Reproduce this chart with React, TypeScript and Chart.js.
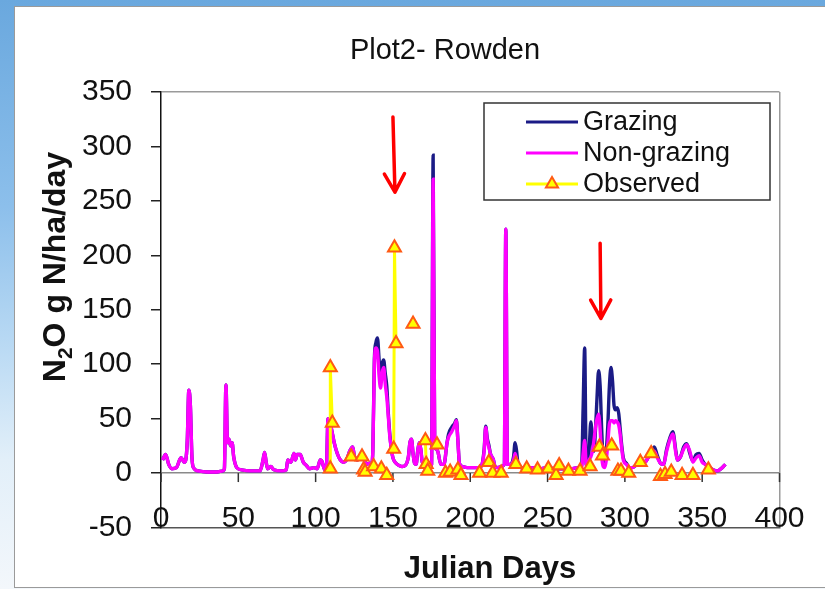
import React, { useEffect, useRef } from "react";
import { Chart, registerables } from "chart.js";

Chart.register(...registerables);

// ---------- data ----------
const titleText = "Plot2- Rowden";
const xTitleText = "Julian Days";
const yTitleParts = ["N", "2", "O g N/ha/day"]; // N₂O g N/ha/day
const legendLabels = ["Grazing", "Non-grazing", "Observed"];

const xMin = 0;
const xMax = 400;
const xStep = 50;
const yMin = -50;
const yMax = 350;
const yStep = 50;

const simDays = [
  1, 3, 5, 7, 10, 12, 13, 15, 16, 17, 18, 19, 20, 21, 24, 30, 36, 40, 41, 42, 43, 44, 45, 46, 47, 49,
  52, 58, 64, 66, 67, 68, 69, 71, 73, 78, 81, 82, 84, 86, 87, 88, 90, 92, 94, 96, 99, 101, 103, 104,
  106, 107, 108, 110, 112, 114, 116, 118, 120, 122, 124, 125, 127, 129, 131, 133, 135, 136, 137, 138,
  139, 140, 141, 142, 143, 144, 145, 146, 147, 148, 149, 150, 152, 154, 156, 158, 160, 161, 162, 163,
  164, 165, 166, 167, 168, 169, 171, 173, 175, 176, 177, 178, 179, 181, 183, 185, 186, 188, 190, 191,
  192, 193, 195, 198, 202, 205, 207, 209, 210, 211, 212, 213, 215, 216, 218, 220, 222, 223, 224, 226,
  228, 229, 230, 231, 233, 236, 240, 245, 250, 255, 260, 265, 270, 272, 273, 274, 275, 276, 277, 278,
  279, 280, 281, 282, 283, 284, 285, 286, 287, 288, 289, 290, 291, 292, 293, 294, 295, 296, 297, 298,
  299, 301, 303, 305, 307, 309, 311, 313, 315, 317, 319, 321, 323, 325, 327, 329, 331, 333, 334, 336,
  338, 340, 342, 344, 346, 348, 350, 352, 354, 357, 360, 363, 365,
];

const nonGrazing = [
  12, 17, 8, 4, 5, 12, 14, 10, 12, 30, 76, 62, 15, 5, 2, 1, 1, 2, 4, 81, 28, 31, 25, 28, 15, 5,
  3, 2, 2, 12, 19, 10, 4, 6, 3, 2, 3, 12, 10, 18, 12, 17, 17, 10, 7, 4, 5, 4, 12, 11,
  3, 5, 50, 42, 28, 18, 12, 10, 12, 20, 24, 16, 12, 15, 13, 8, 9, 7, 20, 100,
  115, 112, 90, 78, 92, 97, 82, 70, 52, 33, 22, 14, 9, 7, 6, 7, 15, 28, 31, 18,
  9, 8, 20, 28, 22, 10, 8, 5, 8, 270, 26, 22, 20, 8, 8, 28, 33, 38, 44, 48,
  30, 9, 6, 5, 5, 5, 6, 20, 42, 30, 24, 18, 12, 6, 5, 6, 8, 224, 8, 8,
  12, 18, 12, 6, 5, 4, 5, 4, 5, 4, 4, 4, 5, 5, 18, 30, 8, 6, 12, 15,
  20, 30, 42, 50, 54, 40, 15, 6, 5, 12, 28, 45, 48, 48, 46, 48, 47, 44, 35, 22,
  12, 8, 5, 5, 7, 9, 12, 10, 14, 18, 20, 14, 9, 8, 20, 30, 36, 18, 12, 15,
  22, 26, 20, 10, 14, 16, 10, 8, 6, 3, 2, 5, 8,
];

const grazing = [
  12, 17, 8, 4, 5, 12, 14, 10, 12, 30, 76, 62, 15, 5, 2, 1, 1, 2, 4, 81, 28, 31, 25, 28, 15, 5,
  3, 2, 2, 12, 19, 10, 4, 6, 3, 2, 3, 12, 10, 18, 12, 17, 17, 10, 7, 4, 5, 4, 12, 11,
  3, 5, 50, 42, 28, 18, 12, 10, 12, 20, 24, 16, 12, 15, 13, 8, 9, 7, 20, 105,
  120, 124, 105, 84, 100, 104, 92, 80, 55, 35, 22, 14, 9, 7, 6, 7, 15, 28, 31, 18,
  9, 8, 20, 28, 22, 10, 8, 5, 8, 292, 26, 22, 20, 8, 8, 28, 36, 42, 46, 49,
  30, 9, 6, 5, 5, 5, 6, 22, 43, 32, 26, 18, 12, 6, 5, 6, 8, 224, 8, 8,
  15, 28, 20, 7, 5, 4, 5, 4, 5, 4, 4, 4, 5, 6, 60, 115, 8, 6, 25, 47,
  30, 20, 40, 70, 94, 80, 40, 12, 8, 20, 45, 80, 97, 85, 62, 58, 60, 55, 40, 25,
  14, 9, 5, 5, 7, 9, 12, 10, 14, 18, 24, 16, 9, 8, 22, 32, 38, 20, 12, 15,
  24, 27, 18, 11, 17, 18, 12, 8, 6, 3, 2, 5, 8,
];

const obsDays = [
  109.5, 109.5, 110.8, 123, 130, 131, 132, 137.5, 142.5, 146, 150.5, 151, 152, 163, 171, 171.5, 172.5,
  178.5, 184, 187, 192, 194, 206, 212, 214.5, 220, 229.5, 236.5, 243.5, 250.5, 255.5, 257.5, 263.5,
  271, 277.5, 283.5, 285.5, 291.5, 295.5, 297.5, 302.5, 310, 317, 323, 326, 330, 337, 344, 354,
];
const obsValues = [
  4, 97, 46, 15, 15, 3, 1, 6, 4, -2, 22, 207, 119, 137, 30, 8, 2,
  26, 0, 1, 3, -2, 0, 10, 0, 0, 8, 4, 3, 4, -2, 7, 2,
  2, 6, 24, 16, 25, 2, 2, 0, 10, 18, -3, -1, 1, -2, -2, 3,
];
// 1 = joined by a line to the previous observation (same sampling day)
const obsLinked = [
  0, 1, 1, 0, 0, 0, 0, 0, 0, 0, 0, 1, 1, 0, 0, 1, 1,
  0, 0, 0, 0, 0, 0, 0, 0, 0, 0, 0, 0, 0, 0, 0, 0,
  0, 0, 0, 0, 0, 0, 0, 0, 0, 0, 0, 0, 0, 0, 0, 0,
];

// red arrows (annotations)
const arrowTopDays = [150, 284];
const arrowTipDays = [151.3, 284.5];
const arrowTopValues = [327, 211];
const arrowTipValues = [258, 142];

// ---------- styles ----------
const NAVY = "#1b1b86";
const MAGENTA = "#ff00ff";
const YELLOW = "#ffff00";
const MARKER_EDGE = "#ff5a14";
const FONT = "'Liberation Sans', Arial, sans-serif";
const TICK_FONT = `30px ${FONT}`;

const overlayPlugin = {
  id: "overlay",
  beforeDatasetsDraw(chart: any) {
    const { ctx, scales } = chart;
    const xs = scales.x;
    const ys = scales.y;
    const y0 = ys.getPixelForValue(0);
    ctx.save();
    // x tick marks on the zero line
    ctx.strokeStyle = "#333";
    ctx.lineWidth = 1.5;
    xs.ticks.forEach((t: any) => {
      const px = xs.getPixelForValue(t.value);
      ctx.beginPath();
      ctx.moveTo(px, y0);
      ctx.lineTo(px, y0 + 9);
      ctx.stroke();
    });
    ctx.restore();
  },
  afterDatasetsDraw(chart: any) {
    const { ctx, scales } = chart;
    const xs = scales.x;
    const ys = scales.y;
    ctx.save();
    ctx.strokeStyle = "#ff0000";
    ctx.lineWidth = 3.5;
    ctx.lineCap = "round";
    ctx.lineJoin = "round";
    for (let i = 0; i < arrowTopDays.length; i++) {
      const x1 = xs.getPixelForValue(arrowTopDays[i]);
      const y1 = ys.getPixelForValue(arrowTopValues[i]);
      const x2 = xs.getPixelForValue(arrowTipDays[i]);
      const y2 = ys.getPixelForValue(arrowTipValues[i]);
      const ang = Math.atan2(y2 - y1, x2 - x1);
      const hl = 21;
      const ha = 0.5;
      ctx.beginPath();
      ctx.moveTo(x1, y1);
      ctx.lineTo(x2, y2);
      ctx.moveTo(x2 - hl * Math.cos(ang - ha), y2 - hl * Math.sin(ang - ha));
      ctx.lineTo(x2, y2);
      ctx.lineTo(x2 - hl * Math.cos(ang + ha), y2 - hl * Math.sin(ang + ha));
      ctx.stroke();
    }
    ctx.restore();
  },
  afterDraw(chart: any) {
    const { ctx, scales } = chart;
    const xs = scales.x;
    ctx.save();

    // x tick labels (Excel style: sitting on the bottom axis line)
    ctx.fillStyle = "#111";
    ctx.font = TICK_FONT;
    ctx.textAlign = "center";
    ctx.textBaseline = "middle";
    xs.ticks.forEach((t: any) => {
      ctx.fillText(String(t.label), xs.getPixelForValue(t.value), 519);
    });

    // chart title
    ctx.textBaseline = "alphabetic";
    ctx.font = `29px ${FONT}`;
    ctx.fillText(titleText, 445, 59);

    // x title
    ctx.font = `bold 31px ${FONT}`;
    ctx.fillText(xTitleText, 490, 578);

    // y title with subscript
    ctx.save();
    ctx.translate(65, 267);
    ctx.rotate(-Math.PI / 2);
    const big = `bold 32px ${FONT}`;
    const small = `bold 21px ${FONT}`;
    ctx.font = big;
    const w0 = ctx.measureText(yTitleParts[0]).width;
    const w2 = ctx.measureText(yTitleParts[2]).width;
    ctx.font = small;
    const w1 = ctx.measureText(yTitleParts[1]).width;
    let cx = -(w0 + w1 + w2) / 2;
    ctx.textAlign = "left";
    ctx.font = big;
    ctx.fillText(yTitleParts[0], cx, 0);
    cx += w0;
    ctx.font = small;
    ctx.fillText(yTitleParts[1], cx, 7);
    cx += w1;
    ctx.font = big;
    ctx.fillText(yTitleParts[2], cx, 0);
    ctx.restore();

    // legend box
    const lx = 484;
    const ly = 103;
    const lw = 286;
    const lh = 97;
    ctx.fillStyle = "#fff";
    ctx.fillRect(lx, ly, lw, lh);
    ctx.strokeStyle = "#333";
    ctx.lineWidth = 1.5;
    ctx.strokeRect(lx, ly, lw, lh);
    const colors = [NAVY, MAGENTA, YELLOW];
    const rows = [122, 153, 184];
    ctx.font = `27px ${FONT}`;
    ctx.textAlign = "left";
    ctx.textBaseline = "middle";
    for (let i = 0; i < legendLabels.length; i++) {
      ctx.strokeStyle = colors[i];
      ctx.lineWidth = 3;
      ctx.beginPath();
      ctx.moveTo(526, rows[i]);
      ctx.lineTo(578, rows[i]);
      ctx.stroke();
      if (i === 2) {
        const r = 7;
        const cxm = 552;
        const cym = rows[i];
        ctx.beginPath();
        for (let k = 0; k < 3; k++) {
          const a = (k * 2 * Math.PI) / 3;
          const px = cxm + Math.sin(a) * r;
          const py = cym - Math.cos(a) * r;
          if (k === 0) ctx.moveTo(px, py);
          else ctx.lineTo(px, py);
        }
        ctx.closePath();
        ctx.fillStyle = YELLOW;
        ctx.fill();
        ctx.strokeStyle = MARKER_EDGE;
        ctx.lineWidth = 2;
        ctx.stroke();
      }
      ctx.fillStyle = "#111";
      ctx.fillText(legendLabels[i], 583, rows[i] + 1);
    }
    ctx.restore();
  },
};

export default function App() {
  const canvasRef = useRef<HTMLCanvasElement | null>(null);

  useEffect(() => {
    const canvas = canvasRef.current;
    if (!canvas) return;

    const obsData = obsDays.map((d, i) => ({ x: d, y: obsValues[i] }));
    const ngData = simDays.map((d, i) => ({ x: d, y: nonGrazing[i] }));
    const gData = simDays.map((d, i) => ({ x: d, y: grazing[i] }));

    const chart = new Chart(canvas, {
      type: "line",
      data: {
        datasets: [
          {
            label: legendLabels[2],
            data: obsData,
            borderColor: YELLOW,
            borderWidth: 3,
            pointStyle: "triangle",
            pointRadius: 7.5,
            pointBackgroundColor: YELLOW,
            pointBorderColor: MARKER_EDGE,
            pointBorderWidth: 2,
            showLine: true,
            order: 0,
            segment: {
              borderColor: (c: any) => (obsLinked[c.p1DataIndex] ? YELLOW : "rgba(0,0,0,0)"),
            },
          },
          {
            label: legendLabels[1],
            data: ngData,
            borderColor: MAGENTA,
            borderWidth: 3.4,
            pointRadius: 0,
            cubicInterpolationMode: "monotone",
            order: 1,
          },
          {
            label: legendLabels[0],
            data: gData,
            borderColor: NAVY,
            borderWidth: 3.4,
            pointRadius: 0,
            cubicInterpolationMode: "monotone",
            order: 2,
          },
        ],
      },
      options: {
        responsive: false,
        animation: false,
        devicePixelRatio: 1,
        layout: { padding: { left: 0, top: 92, right: 45.5, bottom: 0 } },
        plugins: {
          legend: { display: false },
          title: { display: false },
          tooltip: { enabled: false },
        },
        scales: {
          x: {
            type: "linear",
            min: xMin,
            max: xMax,
            afterFit: (s: any) => {
              s.height = 61.5;
            },
            ticks: {
              stepSize: xStep,
              display: false,
              maxRotation: 0,
            },
            grid: {
              drawTicks: false,
              color: (c: any) => (c.tick && c.tick.value === xMax ? "#9a9a9a" : "rgba(0,0,0,0)"),
              lineWidth: 1.5,
            },
            border: { color: "#555", width: 1.5 },
          },
          y: {
            type: "linear",
            min: yMin,
            max: yMax,
            afterFit: (s: any) => {
              s.width = 161;
            },
            ticks: {
              stepSize: yStep,
              padding: 19,
              color: "#111",
              font: { family: FONT, size: 30 },
            },
            grid: {
              drawTicks: true,
              tickLength: 10,
              tickColor: "#222",
              color: (c: any) =>
                c.tick && c.tick.value === 0
                  ? "#8a8a8a"
                  : c.tick && c.tick.value === yMax
                  ? "#9a9a9a"
                  : "rgba(0,0,0,0)",
              lineWidth: 1.5,
            },
            border: { color: "#111", width: 1.5 },
          },
        },
      },
      plugins: [overlayPlugin],
    });

    return () => chart.destroy();
  }, []);

  return (
    <div
      style={{
        position: "fixed",
        left: 0,
        top: 0,
        width: 825,
        height: 589,
        overflow: "hidden",
        background:
          "linear-gradient(180deg, #6aa8de 0%, #8cbfeb 35%, #bcdbf4 60%, #e2eff9 78%, #f3f7fb 100%)",
      }}
    >
      <div
        style={{
          position: "absolute",
          left: 14,
          top: 6,
          width: 811,
          height: 582,
          background: "#ffffff",
          borderLeft: "1.5px solid #9a9a9a",
          borderTop: "1.5px solid #9a9a9a",
          borderBottom: "1.5px solid #9a9a9a",
          boxSizing: "border-box",
        }}
      />
      <canvas
        ref={canvasRef}
        width={825}
        height={589}
        style={{ position: "absolute", left: 0, top: 0, width: 825, height: 589 }}
      />
    </div>
  );
}
